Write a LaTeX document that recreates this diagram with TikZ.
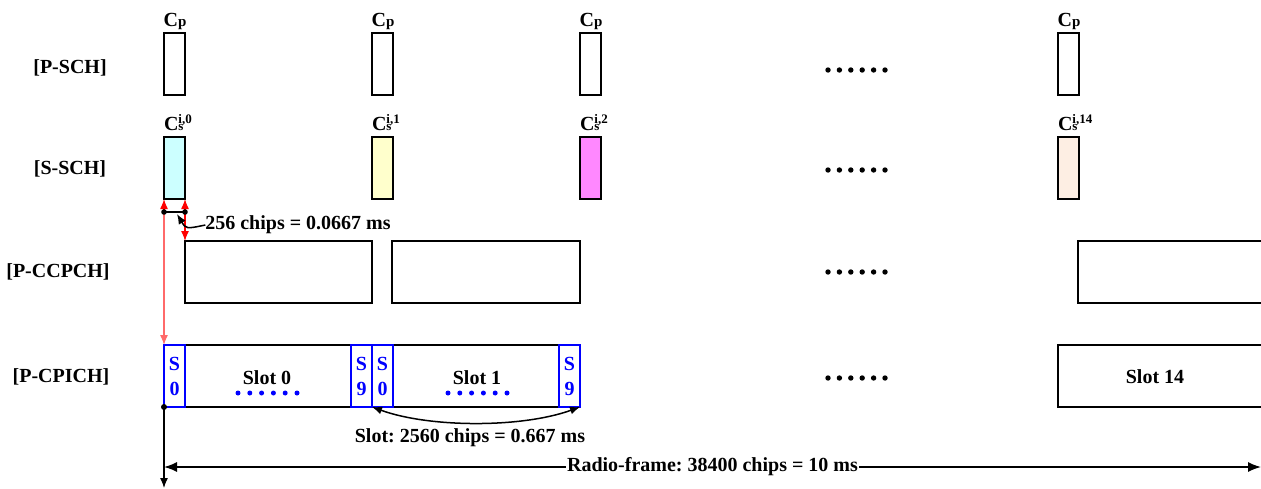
\documentclass[tikz,border=0pt]{standalone}
\usepackage{fontspec}
\setmainfont{Liberation Serif}
\usetikzlibrary{arrows.meta}
\frenchspacing
\definecolor{cyanbox}{HTML}{CCFFFF}
\definecolor{yellowbox}{HTML}{FFFFCC}
\definecolor{magentabox}{HTML}{FF88FF}
\definecolor{peachbox}{HTML}{FDEEE3}
\definecolor{sblue}{HTML}{0000FF}
\definecolor{lightred}{HTML}{FF6A6A}
\newcommand\CpLab{C{\fontsize{15}{15}\selectfont p}}
\newcommand\CsLab[1]{C\rlap{\fontsize{13}{13}\selectfont\raisebox{7pt}{i,#1}}{\fontsize{13}{13}\selectfont s}}
\begin{document}
\begin{tikzpicture}[x=1pt,y=-1pt,
  font=\fontsize{20}{25}\selectfont\bfseries,
  every node/.style={inner sep=0pt, outer sep=0pt},
  chbox/.style={draw, line width=1.2pt, minimum width=21pt, minimum height=62pt, anchor=north west},
  wbox/.style={draw, line width=1.2pt, minimum height=62pt, anchor=north west},
  sbox/.style={draw=sblue, text=sblue, line width=1.6pt, minimum width=21pt, minimum height=62pt, anchor=north west, align=center},
  rowlab/.style={anchor=center},
  toplab/.style={anchor=base},
  cslab/.style={anchor=base west},
  redarr/.style={draw=red, line width=1.3pt, -{Latex[length=10pt,width=8pt]}},
  blktip/.style={-{Latex[length=10pt,width=8pt]}},
  dbltip/.style={{Latex[length=10pt,width=8pt]}-{Latex[length=10pt,width=8pt]}}
]
\useasboundingbox (0,0) rectangle (1261,488);

% row labels
\node[rowlab] (lpsch) at (70,68) {[P-SCH]};
\node[rowlab] (lssch) at (70,169) {[S-SCH]};
\node[rowlab] (lccp) at (58,272) {[P-CCPCH]};
\node[rowlab] (lcpi) at (61,377) {[P-CPICH]};

% P-SCH
\node[chbox] (p0) at (164,33) {};
\node[chbox] (p1) at (372,33) {};
\node[chbox] (p2) at (580,33) {};
\node[chbox] (p3) at (1058,33) {};
\node[toplab] (cp0) at (175,26) {\CpLab};
\node[toplab] (cp1) at (383,26) {\CpLab};
\node[toplab] (cp2) at (591,26) {\CpLab};
\node[toplab] (cp3) at (1069,26) {\CpLab};

% S-SCH
\node[chbox, fill=cyanbox] (s0) at (164,137) {};
\node[chbox, fill=yellowbox] (s1) at (372,137) {};
\node[chbox, fill=magentabox] (s2) at (580,137) {};
\node[chbox, fill=peachbox] (s3) at (1058,137) {};
\node[cslab] (cs0) at (164,130) {\CsLab{0}};
\node[cslab] (cs1) at (372,130) {\CsLab{1}};
\node[cslab] (cs2) at (580,130) {\CsLab{2}};
\node[cslab] (cs3) at (1058,130) {\CsLab{14}};

% P-CCPCH
\node[wbox, minimum width=187pt] (c0) at (185,241) {};
\node[wbox, minimum width=188pt] (c1) at (392,241) {};
\draw[line width=1.2pt] (1263,241) -- (1078,241) -- (1078,303) -- (1263,303);

% P-CPICH
\node[wbox, minimum width=416pt] (cp) at (164,345) {};
\draw[line width=1.2pt] (1263,345) -- (1058,345) -- (1058,407) -- (1263,407);
\node (slot14) at (1155,377) {Slot 14};
\node[sbox] (b00) at (164,345) {S\\0};
\node[sbox] (b09) at (351,345) {S\\9};
\node[sbox] (b10) at (372,345) {S\\0};
\node[sbox] (b19) at (559,345) {S\\9};
\node (slot0) at (267,378) {Slot 0};
\node (slot1) at (477,378) {Slot 1};
\foreach \i in {0,...,5}{
  \fill[sblue] (238+11.8*\i,393) circle (2.5);
  \fill[sblue] (448+11.8*\i,393) circle (2.5);
}

% ellipsis dots
\foreach \yy in {70,170,272,378}{
  \foreach \i in {0,...,5}{
    \fill (828+11.4*\i,\yy) circle (2.7);
  }
}

% 256 chips marker
\coordinate (d1) at (164,212);
\coordinate (d2) at (185,212);
\draw[redarr] (d1) -- (s0.south west);
\draw[redarr] (d2) -- (s0.south east);
\draw[redarr] (d2) -- (c0.north west);
\draw[redarr, draw=lightred] (d1) -- (cp.north west);
\draw[line width=1.2pt] (d1) -- (d2);
\fill (d1) circle (2.8);
\fill (d2) circle (2.8);
\node (chiplab) at (298,225) {256 chips = 0.0667 ms};
\coordinate (chiptip) at (177,214);
\draw[line width=1.5pt, blktip] (chiplab.west) .. controls (186,229) .. (chiptip);

% time axis
\coordinate (ax) at (164,488);
\draw[line width=1.3pt, blktip] (cp.south west) -- (ax);
\fill (cp.south west) circle (3);

% slot arrow
\draw[line width=1.5pt, dbltip] (b10.south west) .. controls (430,428) and (522,428) .. (b19.south east);
\node (slotlab) at (470,438) {Slot: 2560 chips = 0.667 ms};

% radio frame
\coordinate (rf1) at (164,467);
\coordinate (rf2) at (1261,467);
\draw[line width=1.5pt, {Latex[length=13pt,width=10pt]}-{Latex[length=13pt,width=10pt]}] (rf1) -- (rf2)
  node[midway, fill=white, inner sep=1pt] (rflab) {Radio-frame: 38400 chips = 10 ms};
\end{tikzpicture}
\end{document}
